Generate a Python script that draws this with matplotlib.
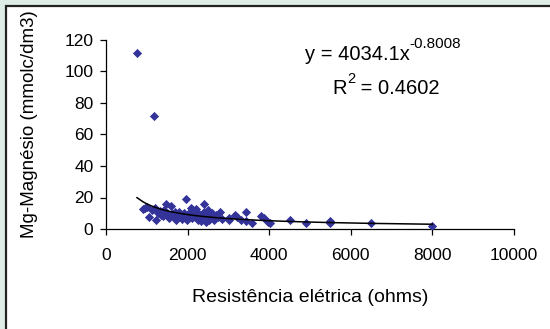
import matplotlib
matplotlib.use('Agg')
import matplotlib.pyplot as plt
from matplotlib.patches import Rectangle
import numpy as np

plt.rcParams['font.family'] = ['Liberation Sans', 'DejaVu Sans']

# resistencia eletrica (ohms) vs Mg (mmolc/dm3)
resist = [760, 1170,
          900, 955, 1000, 1050, 1120, 1200, 1230, 1280, 1320, 1350, 1400, 1430,
          1480, 1500, 1540, 1590, 1620, 1650, 1700, 1720, 1760, 1800, 1830, 1870,
          1900, 1940, 1960, 1990, 2020, 2050, 2080, 2100, 2130, 2160, 2200, 2230,
          2260, 2290, 2320, 2350, 2400, 2410, 2440, 2460, 2500, 2520, 2550, 2600,
          2640, 2700, 2750, 2790, 2850,
          3020, 3020, 3160, 3210, 3300, 3420, 3440, 3590, 3810, 3880, 3980, 4015,
          4500, 4910, 5480, 5480, 6500, 8000]
mg = [112, 72,
      12.5, 13.2, 14, 7.5, 12, 13.5, 5.5, 10, 11.5, 9, 8, 12,
      15.7, 10, 7, 14.8, 9.5, 8, 11, 6, 9, 10.5, 7.5, 6.5,
      10, 8.5, 18.8, 5.5, 9, 11, 13.5, 7, 12, 10, 12.5, 8,
      6, 9.5, 5, 7.5, 15.9, 11, 4.5, 9.5, 12, 6, 8.5, 10,
      5.5, 9, 7.5, 10.6, 6.5,
      5.5, 7.2, 9.1, 7.8, 6, 10.6, 5, 3.6, 8.2, 6.8, 4.2, 4,
      5.7, 4, 5.1, 3.6, 4, 2]

coef_a = 4034.1
coef_b = -0.8008
r2 = 0.4602

fig = plt.figure(figsize=(5.5, 3.29), dpi=100)
W, H = 550, 329
# chart frame (light strip + dark border, like the Excel chart area)
fig.patches.append(Rectangle((0, 0), 1, 1, transform=fig.transFigure,
                             facecolor='#deeee6', edgecolor='none', zorder=-3))
fig.patches.append(Rectangle((6 / W, -0.1), 1.2, (H - 6) / H + 0.1,
                             transform=fig.transFigure, facecolor='white',
                             edgecolor='#222222', linewidth=1.6, zorder=-2))

ax = fig.add_axes([106 / W, 1 - 229 / H, (514 - 106) / W, (229 - 40) / H])
ax.set_facecolor('none')

ax.scatter(resist, mg, marker='D', s=22, color='#333399', linewidths=0, zorder=3)

xs = np.sort(np.array(resist, dtype=float))
ax.plot(xs, coef_a * xs ** coef_b, color='black', lw=1.1, zorder=4)

ax.set_xlim(0, 10000)
ax.set_ylim(0, 120)
ax.set_xticks(range(0, 10001, 2000))
ax.set_yticks(range(0, 121, 20))
for s in ['top', 'right']:
    ax.spines[s].set_visible(False)
for s in ['left', 'bottom']:
    ax.spines[s].set_color('black')
    ax.spines[s].set_linewidth(0.9)
ax.tick_params(direction='out', length=4, width=0.9, labelsize=12.5)
ax.tick_params(axis='x', pad=10)
ax.tick_params(axis='y', pad=5)

ax.set_xlabel('Resistência elétrica (ohms)', fontsize=14)
ax.xaxis.set_label_coords(0.5, (229 - 289) / 189)
ax.set_ylabel('Mg-Magnésio (mmolc/dm3)', fontsize=13.5)
ax.yaxis.set_label_coords((38 - 106) / 408, (229 - 124) / 189)

# trendline equation, superscripts placed right after the main text
fig.canvas.draw()
rend = fig.canvas.get_renderer()
t1 = fig.text(305 / W, 1 - 54 / H, 'y = %.1fx' % coef_a, fontsize=14.5,
              ha='left', va='center')
b1 = t1.get_window_extent(rend)
fig.text(b1.x1 / W, 1 - 44 / H, '%.4f' % coef_b, fontsize=11,
         ha='left', va='center')
t2 = fig.text(332 / W, 1 - 88 / H, 'R', fontsize=14.5, ha='left', va='center')
b2 = t2.get_window_extent(rend)
fig.text(b2.x1 / W + 0.002, 1 - 79 / H, '2', fontsize=10.5, ha='left', va='center')
fig.text(b2.x1 / W + 0.016, 1 - 88 / H, ' = %.4f' % r2, fontsize=14.5,
         ha='left', va='center')

fig.savefig('out.png', dpi=100)
